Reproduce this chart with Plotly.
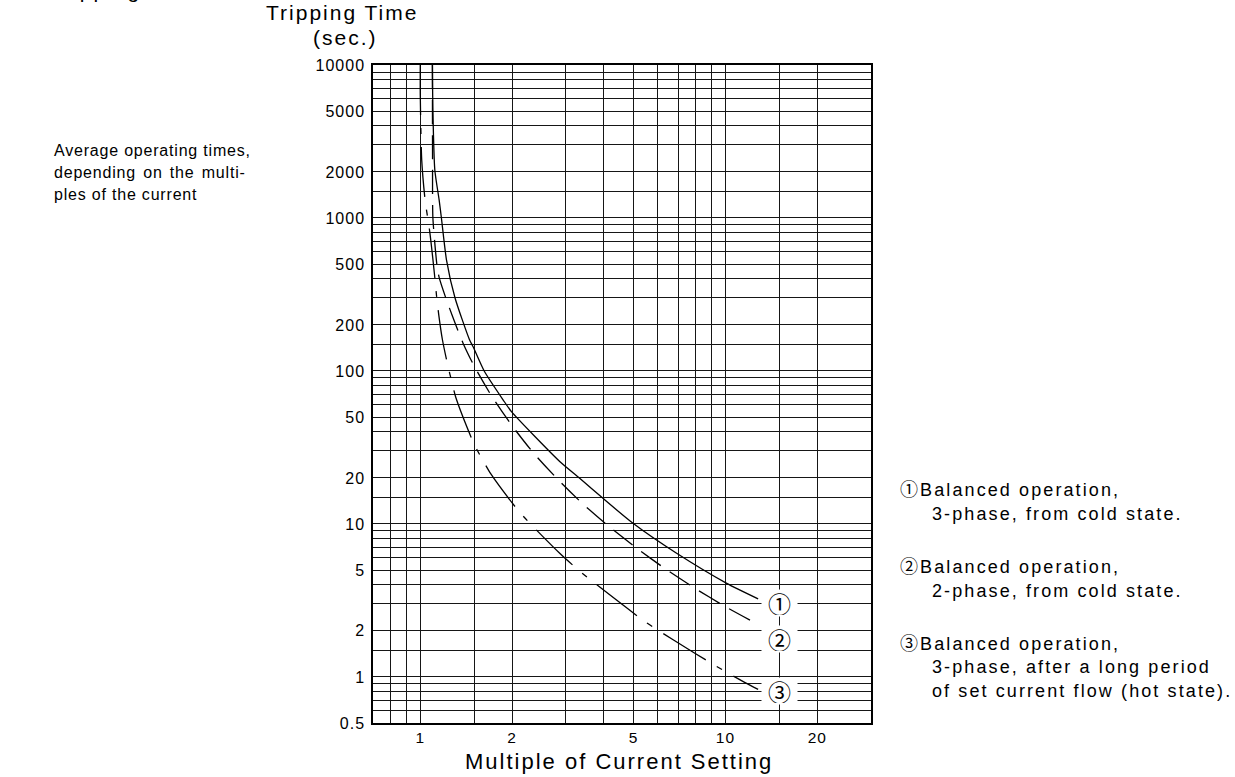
import math
import plotly.graph_objects as go

# ---------------- data ----------------
x_ticks = [1, 2, 5, 10, 20]
x_tick_labels = ["1", "2", "5", "10", "20"]
x_minor = [0.7, 0.8, 0.9, 1.5, 3, 4, 6, 7, 8, 9, 15, 30]

y_ticks = [0.5, 1, 2, 5, 10, 20, 50, 100, 200, 500, 1000, 2000, 5000, 10000]
y_tick_labels = ["0.5", "1", "2", "5", "10", "20", "50", "100", "200", "500",
                 "1000", "2000", "5000", "10000"]
y_minor = [0.6, 0.7, 0.8, 0.9, 1.5, 3, 4, 6, 7, 8, 9, 15, 30, 40, 60, 70, 80, 90,
           150, 300, 400, 600, 700, 800, 900, 1500, 3000, 4000, 6000, 7000, 8000, 9000]

# curve 1: balanced, 3-phase, cold state (solid)
c1_x = [1.096, 1.10, 1.116, 1.153, 1.173, 1.219, 1.30, 1.45, 1.49, 1.62, 1.87, 1.99,
        2.87, 3.33, 3.97, 4.98, 6.92, 10.1, 12.8]
c1_y = [10000, 5000, 2060, 1312, 1000, 531, 300, 160, 144, 100, 64.6, 54.2,
        25.5, 19.9, 14.7, 10.1, 6.43, 4.09, 3.24]

# curve 2: balanced, 2-phase, cold state (dashed)
c2_x = [1.096, 1.097, 1.10, 1.135, 1.153, 1.219, 1.34, 1.381, 1.497, 1.712, 1.99,
        2.343, 2.807, 3.40, 4.16, 5.13, 6.38, 7.94, 10.0, 12.6]
c2_y = [10000, 2400, 1000, 485, 409, 291, 176, 152, 109, 68.7, 44.4,
        29.3, 19.8, 13.6, 9.6, 6.93, 5.06, 3.80, 2.88, 2.24]

# curve 3: balanced, 3-phase, hot state (long dash - dot)
c3_x = [1.0, 1.0, 1.011, 1.037, 1.074, 1.116, 1.13, 1.15, 1.182, 1.228, 1.271, 1.307,
        1.497, 1.607, 1.699, 2.119, 2.864, 3.315, 3.73, 5.45, 6.74, 9.3, 11.6, 12.8]
c3_y = [10000, 6400, 2390, 1312, 815, 408, 314, 232, 160, 111, 83.6, 67.3,
        33.6, 25.9, 21.4, 11.9, 6.43, 4.95, 4.10, 2.30, 1.75, 1.18, 0.918, 0.83]

curve_labels = ["\u2460", "\u2461", "\u2462"]
label_x = [15, 15, 15]
label_y = [3.05, 1.77, 0.81]

legend_lines = [
    ("\u2460Balanced operation,", 0),
    ("3-phase, from cold state.", 1),
    ("\u2461Balanced operation,", 0),
    ("2-phase, from cold state.", 1),
    ("\u2462Balanced operation,", 0),
    ("3-phase, after a long period", 1),
    ("of set current flow (hot state).", 1),
]
legend_mid_y = [489.7, 513.7, 566.7, 590.7, 643.7, 666.7, 690.7]

left_lines = ["Average operating times,", "depending on the multi-", "ples of the current"]
left_word_spacing = [0, 2, 0]

# ---------------- layout geometry (page pixels) ----------------
W, H = 1235, 777
PL, PR, PT, PB = 373, 871, 65, 723   # plot area


def px(x):
    return (x - PL) / (PR - PL)


def py(y):
    return (PB - y) / (PB - PT)


FONT = "Liberation Sans, Arial, Helvetica, Noto Sans CJK JP, sans-serif"
GRID = "#161616"


def sp(t, s, ws=0):
    extra = f";word-spacing:{ws}px" if ws else ""
    return f"<span style='letter-spacing:{s}px{extra}'>{t}</span>"


fig = go.Figure()
line_w = 1.3
fig.add_trace(go.Scatter(x=c1_x, y=c1_y, mode="lines",
                         line=dict(color="black", width=line_w, shape="spline", smoothing=0.6),
                         hoverinfo="skip", showlegend=False))
fig.add_trace(go.Scatter(x=c2_x, y=c2_y, mode="lines",
                         line=dict(color="black", width=line_w, dash="24px,11px",
                                   shape="spline", smoothing=0.6),
                         hoverinfo="skip", showlegend=False))
fig.add_trace(go.Scatter(x=c3_x, y=c3_y, mode="lines",
                         line=dict(color="black", width=line_w, dash="50px,13px,6px,13px",
                                   shape="spline", smoothing=0.6),
                         hoverinfo="skip", showlegend=False))

annotations = []
# curve labels
for t, lx, ly in zip(curve_labels, label_x, label_y):
    annotations.append(dict(x=math.log10(lx), y=math.log10(ly), xref="x", yref="y",
                            text=t, showarrow=False, bgcolor="white",
                            width=33, height=24,
                            font=dict(family="Noto Sans CJK JP, DejaVu Sans", size=23, color="black")))

# y title
annotations.append(dict(x=px(342), y=py(12.5), xref="paper", yref="paper",
                        text=sp("Tripping Time", 2), showarrow=False,
                        xanchor="center", yanchor="middle",
                        font=dict(family=FONT, size=21, color="black")))
annotations.append(dict(x=px(345), y=py(38), xref="paper", yref="paper",
                        text=sp("(sec.)", 2), showarrow=False,
                        xanchor="center", yanchor="middle",
                        font=dict(family=FONT, size=21, color="black")))
# heading cut off by the top edge (only descenders visible)
annotations.append(dict(x=px(48), y=py(-9.5), xref="paper", yref="paper",
                        text=sp("Tripping Characteristics", 2), showarrow=False,
                        xanchor="left", yanchor="middle",
                        font=dict(family=FONT, size=21, color="black")))
# x title
annotations.append(dict(x=px(619), y=py(761), xref="paper", yref="paper",
                        text=sp("Multiple of Current Setting", 2), showarrow=False,
                        xanchor="center", yanchor="middle",
                        font=dict(family=FONT, size=22, color="black")))
# left note
for i, t in enumerate(left_lines):
    annotations.append(dict(x=px(52), y=py(150.5 + 22 * i), xref="paper", yref="paper",
                            text=sp(t, 0.8, left_word_spacing[i]), showarrow=False,
                            xanchor="left", yanchor="middle",
                            font=dict(family=FONT, size=16, color="black")))
# right legend
for (t, ind), my in zip(legend_lines, legend_mid_y):
    annotations.append(dict(x=px(898 if ind == 0 else 930), y=py(my), xref="paper", yref="paper",
                            text=sp(t, 2.1), showarrow=False,
                            xanchor="left", yanchor="middle",
                            font=dict(family=FONT, size=18, color="black")))

axis_common = dict(
    type="log", showgrid=True, gridcolor=GRID, gridwidth=1.2,
    showline=True, mirror=True, linecolor="black", linewidth=1.5,
    ticks="", zeroline=False, tickmode="array",
)

fig.update_layout(
    width=W, height=H,
    margin=dict(l=PL, r=W - PR, t=PT, b=H - PB, autoexpand=False),
    paper_bgcolor="white", plot_bgcolor="white",
    showlegend=False,
    xaxis=dict(**axis_common,
               range=[math.log10(0.7), math.log10(30)],
               tickvals=x_ticks, ticktext=[sp(t, 1) for t in x_tick_labels],
               tickfont=dict(family=FONT, size=15.5, color="black"),
               ticklabelstandoff=0,
               minor=dict(tickmode="array", tickvals=x_minor, showgrid=True,
                          gridcolor=GRID, gridwidth=1.2, ticks="")),
    yaxis=dict(**axis_common,
               range=[math.log10(0.5), math.log10(10000)],
               tickvals=y_ticks, ticktext=[sp(t, 1) for t in y_tick_labels],
               tickfont=dict(family=FONT, size=16, color="black"),
               ticklabelstandoff=3,
               minor=dict(tickmode="array", tickvals=y_minor, showgrid=True,
                          gridcolor=GRID, gridwidth=1.2, ticks="")),
    annotations=annotations,
)

fig.write_html("out.html",
               config={"displayModeBar": False},
               post_script="document.body.style.margin='0';document.body.style.overflow='hidden';")
